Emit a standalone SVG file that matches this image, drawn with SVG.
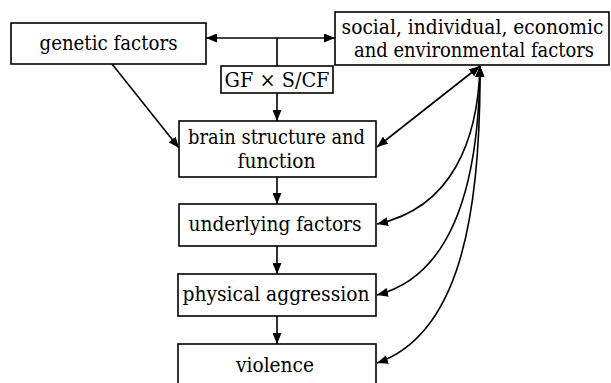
<svg xmlns="http://www.w3.org/2000/svg" width="611" height="383" viewBox="0 0 611 383">
<style>
.box{fill:#fff;stroke:#000;stroke-width:1.6}
.t{font-family:'DejaVu Serif',serif;font-size:20.5px;fill:#000;text-anchor:middle}
.c{fill:none;stroke:#000;stroke-width:1.6}
</style>
<defs>
<marker id="ah" viewBox="0 0 11 9" refX="11" refY="4.5" markerWidth="11" markerHeight="9" markerUnits="userSpaceOnUse" orient="auto-start-reverse">
<path d="M0,0 L11,4.5 L0,9 Z" fill="#000"/>
</marker>
</defs>
<rect width="611" height="383" fill="#fff"/>
<g id="connectors">
<path class="c" d="M206,38 H335" marker-start="url(#ah)" marker-end="url(#ah)"/>
<path class="c" d="M277,38 V66"/>
<path class="c" d="M277,93 V121" marker-end="url(#ah)"/>
<path class="c" d="M112,64 L179,148" marker-end="url(#ah)"/>
<path class="c" d="M277,177 V204" marker-end="url(#ah)"/>
<path class="c" d="M277,246 V274" marker-end="url(#ah)"/>
<path class="c" d="M277,316 V344" marker-end="url(#ah)"/>
<path class="c" d="M480,66 L377,147" marker-start="url(#ah)" marker-end="url(#ah)"/>
<path class="c" d="M480,66 C478,140 452,208 377,224" marker-start="url(#ah)" marker-end="url(#ah)"/>
<path class="c" d="M480,66 C479,180 455,275 377,295" marker-start="url(#ah)" marker-end="url(#ah)"/>
<path class="c" d="M480,66 C481,220 458,335 377,363" marker-start="url(#ah)" marker-end="url(#ah)"/>
</g>
<g id="genetic">
<rect class="box" x="11" y="23" width="195" height="41"/>
<text class="t" x="108.5" y="50" textLength="138" lengthAdjust="spacingAndGlyphs">genetic factors</text>
</g>
<g id="social">
<rect class="box" x="335" y="12" width="274" height="53"/>
<text class="t" transform="translate(472.5,34) scale(0.87,1)" font-size="20" textLength="301" lengthAdjust="spacingAndGlyphs">social, individual, economic</text>
<text class="t" transform="translate(474,57) scale(0.87,1)" font-size="20" textLength="276" lengthAdjust="spacingAndGlyphs">and environmental factors</text>
</g>
<g id="gxs">
<rect class="box" x="221" y="66" width="112" height="27"/>
<text class="t" x="277" y="87" textLength="105" lengthAdjust="spacingAndGlyphs">GF × S/CF</text>
</g>
<g id="brain">
<rect class="box" x="179" y="121" width="197" height="56"/>
<text class="t" x="276.5" y="144" textLength="177" lengthAdjust="spacingAndGlyphs">brain structure and</text>
<text class="t" x="276.5" y="168" textLength="78" lengthAdjust="spacingAndGlyphs">function</text>
</g>
<g id="underlying">
<rect class="box" x="179" y="204" width="197" height="42"/>
<text class="t" x="275" y="231" textLength="173" lengthAdjust="spacingAndGlyphs">underlying factors</text>
</g>
<g id="physical">
<rect class="box" x="178" y="274" width="198" height="42"/>
<text class="t" x="276" y="301" textLength="187" lengthAdjust="spacingAndGlyphs">physical aggression</text>
</g>
<g id="violence">
<rect class="box" x="178" y="344" width="198" height="45"/>
<text class="t" x="275" y="372" textLength="78" lengthAdjust="spacingAndGlyphs">violence</text>
</g>
</svg>
